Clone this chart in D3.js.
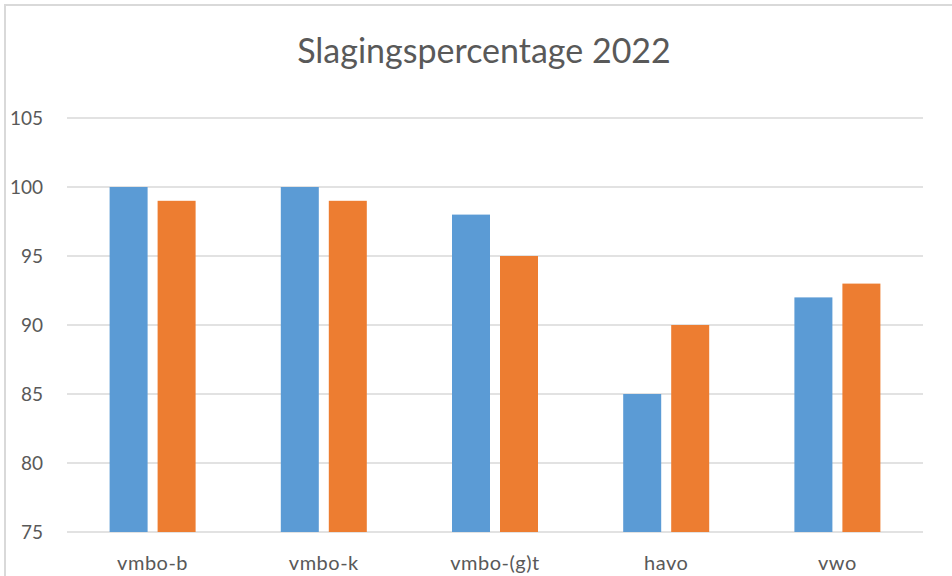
<!DOCTYPE html>
<html>
<head>
<meta charset="utf-8">
<script src="https://cdn.jsdelivr.net/npm/d3@7"></script>
<style>
  body { margin: 0; background: #fff; }
  svg text { font-family: Lato, "Open Sans", sans-serif; fill: #595959; }
</style>
</head>
<body>
<script>
// chart data
var categories = ["vmbo-b", "vmbo-k", "vmbo-(g)t", "havo", "vwo"];
var series1 = [100, 100, 98, 85, 92];
var series2 = [99, 99, 95, 90, 93];
var yTicks = [75, 80, 85, 90, 95, 100, 105];
var colors = ["#5B9BD5", "#ED7D31"];

var width = 952, height = 576;
var plot = { left: 67, right: 923, top: 118, bottom: 532 };

var svg = d3.select("body").append("svg")
    .attr("width", width)
    .attr("height", height);

// outer chart border (runs off the right and bottom edge)
svg.append("rect")
    .attr("x", 5).attr("y", 5)
    .attr("width", 1000).attr("height", 700)
    .attr("fill", "#fff")
    .attr("stroke", "#D9D9D9")
    .attr("stroke-width", 2);

var x = d3.scaleBand()
    .domain(categories)
    .range([plot.left, plot.right]);

var y = d3.scaleLinear()
    .domain([75, 105])
    .range([plot.bottom, plot.top]);

// gridlines
svg.append("g").selectAll("line")
    .data(yTicks)
    .enter()
    .append("line")
    .attr("x1", plot.left)
    .attr("x2", plot.right)
    .attr("y1", function(d) { return y(d); })
    .attr("y2", function(d) { return y(d); })
    .attr("stroke", "#D9D9D9")
    .attr("stroke-width", 1.5);

// y labels
svg.append("g").selectAll("text")
    .data(yTicks)
    .enter()
    .append("text")
    .attr("x", 43)
    .attr("y", function(d) { return y(d) + 7; })
    .attr("text-anchor", "end")
    .attr("font-size", "19px")
    .text(function(d) { return d; });

var barW = 38, gap = 10;
var rows = categories.map(function(c, i) {
    return { cat: c, vals: [series1[i], series2[i]] };
});

var groups = svg.append("g").selectAll("g")
    .data(rows)
    .enter()
    .append("g");

groups.selectAll("rect")
    .data(function(d) { return d.vals.map(function(v, j) { return { cat: d.cat, v: v, j: j }; }); })
    .enter()
    .append("rect")
    .attr("x", function(d) {
        var mid = x(d.cat) + x.bandwidth() / 2;
        return d.j === 0 ? mid - gap / 2 - barW : mid + gap / 2;
    })
    .attr("y", function(d) { return y(d.v); })
    .attr("width", barW)
    .attr("height", function(d) { return y(75) - y(d.v); })
    .attr("fill", function(d) { return colors[d.j]; });

// category labels
svg.append("g").selectAll("text")
    .data(categories)
    .enter()
    .append("text")
    .attr("x", function(d) { return x(d) + x.bandwidth() / 2; })
    .attr("y", 570)
    .attr("text-anchor", "middle")
    .attr("font-size", "20px")
    .attr("letter-spacing", "0.5px")
    .text(function(d) { return d; });

// title
svg.append("text")
    .attr("x", 484)
    .attr("y", 63)
    .attr("text-anchor", "middle")
    .attr("font-size", "34px")
    .text("Slagingspercentage 2022");
</script>
</body>
</html>
